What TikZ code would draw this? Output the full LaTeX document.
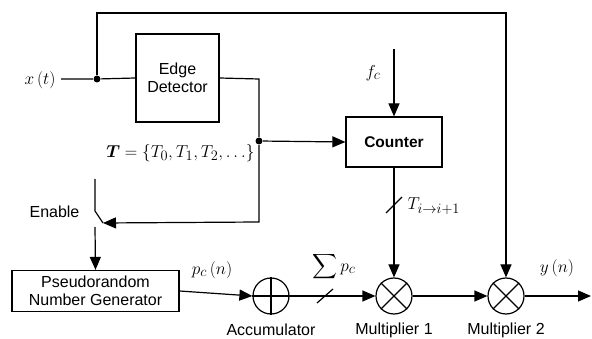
\documentclass[tikz,border=0pt]{standalone}
\usepackage{amsmath}
\usepackage{fontspec}
\setsansfont{Liberation Sans}
\usetikzlibrary{arrows.meta}
\begin{document}
\begin{tikzpicture}[x=1pt,y=1pt,
  line width=1.2pt,
  arr/.style={-{Triangle[length=13pt,width=11pt]}},
  blk/.style={draw,rectangle,inner sep=0pt,font=\sffamily\fontsize{16}{18}\selectfont,align=center},
  sumnode/.style={draw,circle,minimum size=36pt,inner sep=0pt},
  lbl/.style={font=\sffamily\fontsize{16}{18}\selectfont,inner sep=1pt},
  mlbl/.style={font=\fontsize{19}{21}\selectfont,inner sep=1pt},
  dot/.style={circle,fill,inner sep=0pt,minimum size=7pt}]
\useasboundingbox (0,0) rectangle (592,-339);
% blocks
\node[blk,minimum width=83pt,minimum height=88pt] (edge) at (177.5,-78) {Edge\\Detector};
\node[blk,minimum width=96pt,minimum height=50pt,font=\sffamily\bfseries\fontsize{15.5}{18}\selectfont] (cnt) at (394,-142) {Counter};
\node[blk,minimum width=167pt,minimum height=41pt] (prng) at (95.5,-291) {Pseudorandom\\Number Generator};
\node[sumnode] (acc) at (271,-296) {};
\node[sumnode] (m1) at (394,-296) {};
\node[sumnode] (m2) at (506,-296) {};
\draw (acc.north) -- (acc.south) (acc.west) -- (acc.east);
\draw (m1.north west) -- (m1.south east) (m1.north east) -- (m1.south west);
\draw (m2.north west) -- (m2.south east) (m2.north east) -- (m2.south west);
% coordinates and dots
\node[dot] (a) at (97,-79) {};
\node[dot] (c) at (259,-141) {};
\coordinate (xin) at (61,-79);
\coordinate (tl) at (97,-13);
\coordinate (tr) at (506,-13);
\coordinate (b) at (259,-79);
\coordinate (d) at (259,-222);
\coordinate (sw1) at (95,-179);
\coordinate (sw2) at (95,-211);
\coordinate (sw3) at (103,-223);
\coordinate (sw4) at (95,-227);
\coordinate (fc) at (394,-49);
\coordinate (out) at (591,-296);
% labels
\node[mlbl,anchor=east] (xt) at (57,-80) {$x\left(t\right)$};
\node[mlbl] (fcl) at (373,-73) {$f_c$};
\node[mlbl,anchor=east] (tset) at (256,-153) {$\boldsymbol{T}=\left\{T_0,T_1,T_2,\ldots\right\}$};
\node[lbl,anchor=east] (en) at (81,-212) {Enable};
\node[mlbl,anchor=west] (tii) at (406,-206) {$T_{i\rightarrow i+1}$};
\node[mlbl] (pcn) at (212,-270) {$p_c\left(n\right)$};
\node[mlbl] (spc) at (334,-267) {$\displaystyle\sum p_c$};
\node[mlbl] (yn) at (557,-268) {$y\left(n\right)$};
\node[lbl] (accl) at (271,-330) {Accumulator};
\node[lbl] (m1l) at (394,-330) {Multiplier 1};
\node[lbl] (m2l) at (506,-330) {Multiplier 2};
% connectors
\draw (xin) -- (a) -- (edge.west);
\draw[arr] (a) -- (tl) -- (tr) -- (m2.north);
\draw (edge.east) -- (b) -- (c);
\draw[arr] (c) -- (cnt.west);
\draw[arr] (c) -- (d) -- (sw3);
\draw (sw1) -- (sw2) -- (sw3);
\draw[arr] (sw4) -- (prng.north);
\draw[arr] (fc) -- (cnt.north);
\draw[arr] (cnt.south) -- (m1.north);
\draw (386,-213) -- (402,-197);
\draw[arr] (prng.east) -- (acc.west);
\draw[arr] (acc.east) -- (m1.west);
\draw (317,-303) -- (333,-289);
\draw[arr] (m1.east) -- (m2.west);
\draw[arr] (m2.east) -- (out);
\end{tikzpicture}
\end{document}
